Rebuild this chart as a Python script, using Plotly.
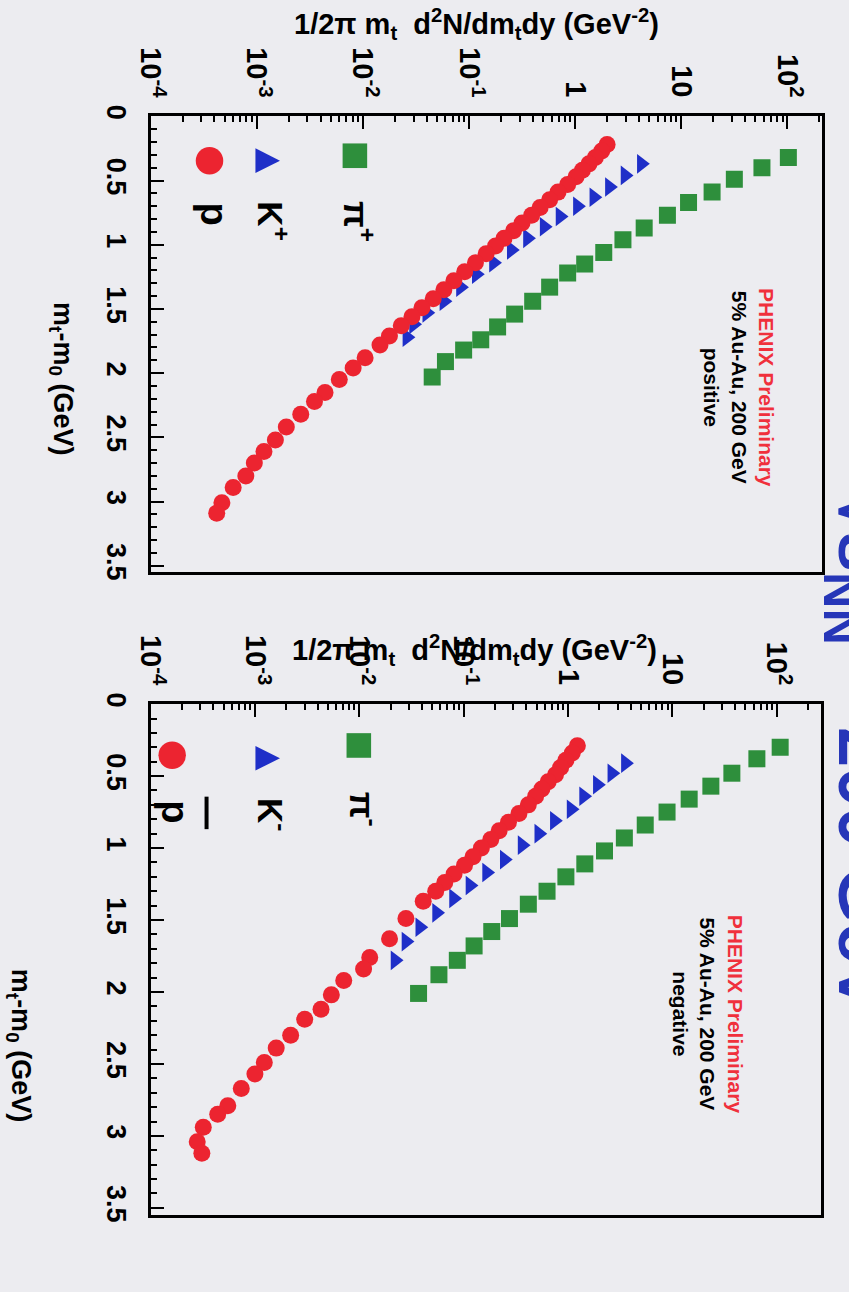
import plotly.graph_objects as go

W, H = 849, 1292

# ---- positive particles (mt - m0 in GeV, invariant yield in GeV^-2) ----
pip_mt = [0.32, 0.40, 0.49, 0.59, 0.67, 0.77, 0.87, 0.96, 1.06, 1.15,
          1.22, 1.33, 1.44, 1.54, 1.64, 1.74, 1.82, 1.91, 2.03]
pip_val = [102, 57.5, 31.6, 19.5, 11.7, 7.4, 4.47, 2.82, 1.86, 1.23,
           0.85, 0.575, 0.398, 0.269, 0.186, 0.129, 0.089, 0.060, 0.045]

kp_mt = [0.37, 0.46, 0.55, 0.63, 0.70, 0.78, 0.86, 0.95, 1.04, 1.14,
         1.23, 1.33, 1.44, 1.53, 1.62, 1.72]
kp_val = [4.2, 2.95, 2.1, 1.5, 1.05, 0.72, 0.51, 0.355, 0.25, 0.17,
          0.117, 0.083, 0.058, 0.040, 0.030, 0.026]

p_mt = [0.22, 0.27, 0.32, 0.37, 0.42, 0.47, 0.53, 0.59, 0.65, 0.71,
        0.77, 0.83, 0.89, 0.95, 1.01, 1.07, 1.14, 1.21, 1.28, 1.35,
        1.42, 1.49, 1.56, 1.63, 1.71, 1.78, 1.88, 1.96, 2.05, 2.15,
        2.22, 2.32, 2.42, 2.52, 2.61, 2.70, 2.80, 2.89, 3.01, 3.09]
p_val = [2.0, 1.78, 1.55, 1.35, 1.17, 1.02, 0.85, 0.69, 0.575, 0.468,
         0.389, 0.316, 0.263, 0.214, 0.178, 0.145, 0.115, 0.091, 0.072, 0.058,
         0.046, 0.036, 0.029, 0.023, 0.0178, 0.0145, 0.0105, 0.0081, 0.0060, 0.0044,
         0.0035, 0.0026, 0.0019, 0.0015, 0.00117, 0.00095, 0.00079, 0.00060, 0.00047, 0.00042]

# ---- negative particles ----
pim_mt = [0.30, 0.38, 0.48, 0.57, 0.66, 0.75, 0.84, 0.93, 1.02, 1.11,
          1.20, 1.30, 1.39, 1.49, 1.58, 1.68, 1.78, 1.88, 2.01]
pim_val = [108, 64.6, 37.2, 23.4, 14.5, 8.9, 5.5, 3.47, 2.24, 1.45,
           0.955, 0.63, 0.417, 0.275, 0.186, 0.126, 0.087, 0.058, 0.037]

km_mt = [0.41, 0.48, 0.56, 0.64, 0.73, 0.81, 0.90, 0.98, 1.08, 1.17,
         1.26, 1.35, 1.45, 1.55, 1.65, 1.78]
km_val = [3.55, 2.63, 1.91, 1.41, 1.07, 0.74, 0.525, 0.363, 0.245, 0.166,
          0.115, 0.080, 0.055, 0.038, 0.028, 0.022]

pbar_mt = [0.29, 0.34, 0.39, 0.44, 0.49, 0.54, 0.59, 0.64, 0.70, 0.76,
           0.82, 0.88, 0.94, 1.00, 1.06, 1.12, 1.18, 1.24, 1.30, 1.37,
           1.49, 1.63, 1.76, 1.84, 1.92, 2.02, 2.12, 2.19, 2.30, 2.39,
           2.49, 2.57, 2.67, 2.79, 2.85, 2.94, 3.04, 3.12]
pbar_val = [1.23, 1.10, 0.955, 0.851, 0.759, 0.646, 0.562, 0.490, 0.417, 0.339,
            0.269, 0.219, 0.182, 0.148, 0.123, 0.102, 0.081, 0.066, 0.054, 0.041,
            0.028, 0.0195, 0.0126, 0.011, 0.0071, 0.0054, 0.0043, 0.0030, 0.0022, 0.0016,
            0.00123, 0.0010, 0.00074, 0.00055, 0.00044, 0.00032, 0.00028, 0.00031]

# ---- axis tick labels ----
yield_ticks = [1e-4, 1e-3, 1e-2, 1e-1, 1, 10, 100]
yield_text = ["10<sup>-4</sup>", "10<sup>-3</sup>", "10<sup>-2</sup>", "10<sup>-1</sup>",
              "1", "10", "10<sup>2</sup>"]
mt_ticks = [0, 0.5, 1, 1.5, 2, 2.5, 3, 3.5]
mt_text = ["0", "0.5", "1", "1.5", "2", "2.5", "3", "3.5"]

GREEN = "#2E8F3C"
BLUE = "#1F2FC8"
RED = "#EC2430"
BG = "#ECECF0"
FONT = "Liberation Sans"


def px(x, y):
    """page pixel -> paper coordinates"""
    return x / W, 1 - y / H


minor_log = [k * 10.0 ** e for e in range(-4, 3) for k in range(2, 10)]


def yield_axis(domain, anchor, rng):
    return dict(
        type="log", range=rng, side="top", domain=domain, anchor=anchor,
        tickmode="array", tickvals=yield_ticks, ticktext=yield_text,
        tickangle=90, ticks="inside", ticklen=13, tickwidth=2, tickcolor="black",
        minor=dict(tickmode="array", tickvals=minor_log, ticks="inside",
                   ticklen=6, tickwidth=1.5, tickcolor="black", showgrid=False),
        showline=True, linecolor="black", linewidth=2.5, mirror=True,
        showgrid=False, zeroline=False, ticklabelstandoff=6,
        tickfont=dict(family=FONT, size=29, color="black", weight="bold"),
    )


def mt_axis(domain, anchor, rng):
    return dict(
        range=rng, domain=domain, anchor=anchor,
        tickmode="array", tickvals=mt_ticks, ticktext=mt_text,
        tickangle=90, ticks="inside", ticklen=14, tickwidth=2, tickcolor="black",
        minor=dict(dtick=0.1, tick0=0, ticks="inside", ticklen=7, tickwidth=1.5,
                   tickcolor="black", showgrid=False),
        showline=True, linecolor="black", linewidth=2.5, mirror=True,
        showgrid=False, zeroline=False, ticklabelstandoff=8,
        tickfont=dict(family=FONT, size=27, color="black", weight="bold"),
    )


fig = go.Figure()

panels = [
    ("x", "y", [(pip_val, pip_mt), (kp_val, kp_mt), (p_val, p_mt)]),
    ("x2", "y2", [(pim_val, pim_mt), (km_val, km_mt), (pbar_val, pbar_mt)]),
]
styles = [("square", GREEN, 17), ("triangle-right", BLUE, 17), ("circle", RED, 17)]

for xa, ya, series in panels:
    for (vals, mts), (sym, col, size) in zip(series, styles):
        fig.add_trace(go.Scatter(
            x=vals, y=mts, mode="markers", xaxis=xa, yaxis=ya, showlegend=False,
            marker=dict(symbol=sym, color=col, size=size, line=dict(width=0)),
        ))

top_x = [138 / W, 822 / W]
top_y = [1 - 569 / H, 1 - 106 / H]
bot_x = [138 / W, 820 / W]
bot_y = [1 - 1222 / H, 1 - 703 / H]

fig.update_layout(
    width=W, height=H,
    margin=dict(l=0, r=0, t=0, b=0),
    paper_bgcolor=BG, plot_bgcolor=BG,
    xaxis=yield_axis(top_x, "y", [-4, 2.33]),
    yaxis=mt_axis(top_y, "x", [3.55, 0]),
    xaxis2=yield_axis(bot_x, "y2", [-4, 2.42]),
    yaxis2=mt_axis(bot_y, "x2", [3.55, 0]),
    font=dict(family=FONT, color="black"),
)

ann = []


def text(x, y, s, size, angle=0, color="black"):
    xp, yp = px(x, y)
    ann.append(dict(x=xp, y=yp, xref="paper", yref="paper", text=s, showarrow=False,
                    textangle=angle, xanchor="center", yanchor="middle",
                    font=dict(family=FONT, size=size, color=color, weight="bold")))


title_yield = "1/2π m<sub>t</sub>  d<sup>2</sup>N/dm<sub>t</sub>dy (GeV<sup>-2</sup>)"
title_mt = "m<sub>t</sub>-m<sub>0</sub> (GeV)"

# axis titles
text(470, 12, title_yield, 29)
text(468, 648, title_yield, 29)
text(47, 372, title_mt, 27, 90)
text(4, 1050, title_mt, 27, 90)

# collision system labels
info = ("<span style='color:#F0303C'>PHENIX Preliminary</span><br>"
        "5% Au-Au, 200 GeV<br>{}")
text(737, 382, info.format("positive"), 21, 90)
text(705, 1018, info.format("negative"), 21, 90)

# slide heading, partly off the page
text(859, 752, "√s<sub>NN</sub> = 200 GeV", 72, 90, color="#2636B8")

# legend labels
text(350, 213, "π<sup>+</sup>", 35, 90)
text(263, 213, "K<sup>+</sup>", 35, 90)
text(203, 205, "p", 38, 90)
text(355, 810, "π<sup>-</sup>", 35, 90)
text(262, 815, "K<sup>-</sup>", 35, 90)
text(162, 812, "p", 38, 90)

fig.update_layout(annotations=ann)

# legend symbols
shapes = []


def sq(cx, cy, s, col):
    x0, y0 = px(cx - s / 2, cy + s / 2)
    x1, y1 = px(cx + s / 2, cy - s / 2)
    shapes.append(dict(type="rect", xref="paper", yref="paper", x0=x0, y0=y0, x1=x1, y1=y1,
                       fillcolor=col, line=dict(width=0)))


def circ(cx, cy, s, col):
    x0, y0 = px(cx - s / 2, cy + s / 2)
    x1, y1 = px(cx + s / 2, cy - s / 2)
    shapes.append(dict(type="circle", xref="paper", yref="paper", x0=x0, y0=y0, x1=x1, y1=y1,
                       fillcolor=col, line=dict(width=0)))


def tri(cx, cy, s, col):
    a = px(cx - s * 0.45, cy - s / 2)
    b = px(cx - s * 0.45, cy + s / 2)
    c = px(cx + s * 0.55, cy)
    path = f"M {a[0]},{a[1]} L {b[0]},{b[1]} L {c[0]},{c[1]} Z"
    shapes.append(dict(type="path", xref="paper", yref="paper", path=path,
                       fillcolor=col, line=dict(width=0)))


def bar(x, y0, y1):
    a = px(x, y0)
    b = px(x, y1)
    shapes.append(dict(type="line", xref="paper", yref="paper", x0=a[0], y0=a[1],
                       x1=b[0], y1=b[1], line=dict(color="black", width=4)))


sq(346, 146, 25, GREEN)
tri(256, 151, 25, BLUE)
circ(198, 151, 28, RED)
sq(350, 745, 25, GREEN)
tri(256, 758, 25, BLUE)
circ(160, 755, 28, RED)
bar(195, 797, 830)

fig.update_layout(shapes=shapes)

fig.write_html("out.html")
